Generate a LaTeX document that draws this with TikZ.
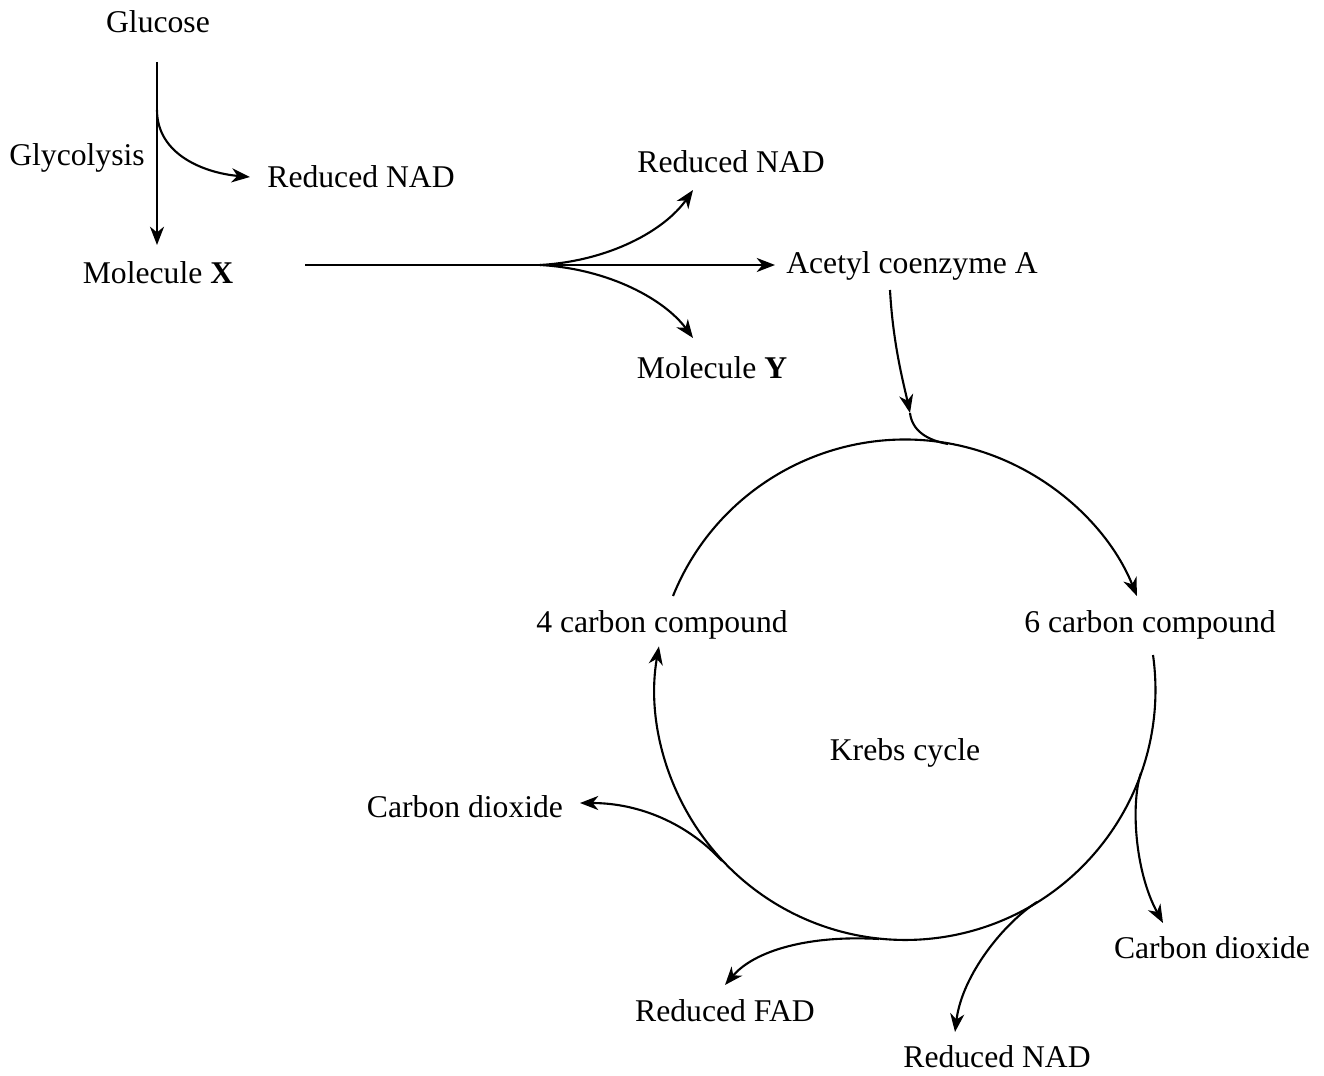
\documentclass[tikz,border=0pt]{standalone}
\usepackage{fontspec}
\setmainfont{Liberation Serif}
\usetikzlibrary{arrows.meta}
\tikzset{
  >={Stealth[length=5.2pt,width=4pt,inset=1.6pt]},
  lbl/.style={inner sep=0pt,font=\fontsize{9}{11}\selectfont},
}
\begin{document}
\begin{tikzpicture}[x=0.01cm,y=0.01cm,line width=0.6pt]
            \useasboundingbox (0,0) rectangle (1324,1075);
            % glycolysis
            \node (glucose) at (158,1053) [lbl] {Glucose};
            \node (glyco) at (77,917) [lbl] {Glycolysis};
            \node (nadA) at (361,898) [lbl] {Reduced NAD};
            \node (molx) at (158,802) [lbl] {Molecule \textbf{X}};
            \coordinate (gtop) at (157,1013);
            \coordinate (gbot) at (157,830);
            \coordinate (gsplit) at (157,965);
            \coordinate (gnad) at (250,898);
            \draw[->] (gtop)--(gbot);
            \draw[->] (gsplit) .. controls (157,920) and (205,902) .. (gnad);
            % link reaction
            \node (nadB) at (731,913) [lbl] {Reduced NAD};
            \node (acoa) at (912,809) [lbl] {Acetyl coenzyme A};
            \node (moly) at (712,707) [lbl] {Molecule \textbf{Y}};
            \coordinate (lstart) at (305,810);
            \coordinate (lsplit) at (540,810);
            \coordinate (lacoa) at (775,810);
            \coordinate (lnad) at (693,885);
            \coordinate (lmoly) at (693,737);
            \draw[->] (lstart)--(lacoa);
            \draw[->] (lsplit) .. controls (610,814) and (665,845) .. (lnad);
            \draw[->] (lsplit) .. controls (610,806) and (665,775) .. (lmoly);
            % krebs cycle
            \node (krebs) at (905,322) [lbl] {Krebs cycle};
            \node (fourc) at (662,450) [lbl] {4 carbon compound};
            \node (sixc) at (1150,450) [lbl] {6 carbon compound};
            \node (co2a) at (465,268) [lbl] {Carbon dioxide};
            \node (co2b) at (1212,127) [lbl] {Carbon dioxide};
            \node (fad) at (725,64) [lbl] {Reduced FAD};
            \node (nadC) at (997,18) [lbl] {Reduced NAD};
            \coordinate (cfour) at (673,479);
            \coordinate (csix) at (1137,479);
            \coordinate (csixb) at (1153,420);
            \coordinate (cfourb) at (659,428);
            \draw[->] (cfour) arc[start angle=158,end angle=22,radius=2.5cm];
            \draw[->] (csixb) arc[start angle=8,end angle=-190,radius=2.5cm];
            % acetyl coenzyme A into the cycle
            \coordinate (atop) at (890,785);
            \coordinate (atip) at (910,662);
            \coordinate (ajoin) at (948,631);
            \draw[->] (atop) .. controls (893,730) and (904,690) .. (atip);
            \draw (atip) .. controls (912,645) and (926,635) .. (ajoin);
            % products of the cycle
            \coordinate (kco2b) at (1141,302);
            \coordinate (kco2btip) at (1163,152);
            \draw[->] (kco2b) .. controls (1131,274) and (1134,205) .. (kco2btip);
            \coordinate (knad) at (1037,173);
            \coordinate (knadtip) at (955,43);
            \draw[->] (knad) .. controls (1004,152) and (962,100) .. (knadtip);
            \coordinate (kfad) at (879,136);
            \coordinate (kfadtip) at (725,90);
            \draw[->] (kfad) .. controls (810,140) and (755,125) .. (kfadtip);
            \coordinate (kco2a) at (722,214);
            \coordinate (kco2atip) at (580,272);
            \draw[->] (kco2a) .. controls (688,251) and (640,272) .. (kco2atip);
        \end{tikzpicture}
\end{document}
